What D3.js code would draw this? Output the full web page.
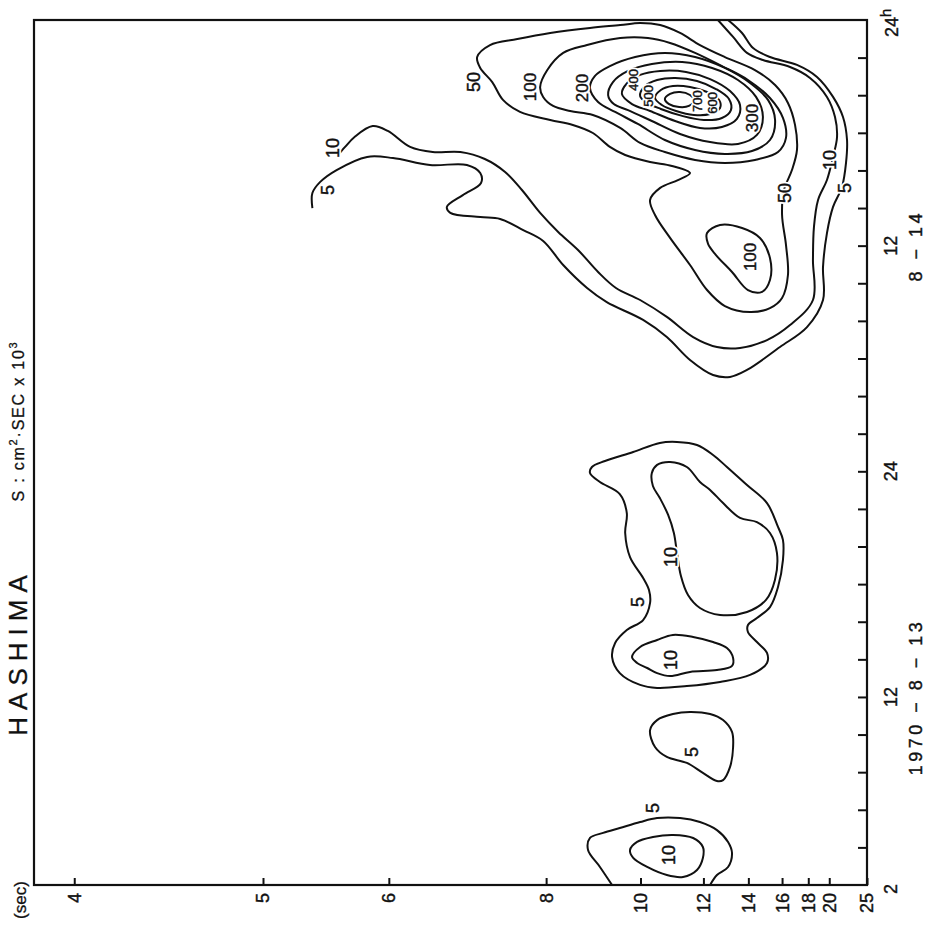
<!DOCTYPE html>
<html><head><meta charset="utf-8">
<script src="https://cdn.jsdelivr.net/npm/d3@7"></script>
<style>
body{margin:0;background:#fff}
svg{display:block}
text{font-family:"Liberation Sans",Arial,Helvetica,sans-serif;fill:#111}
</style>
</head><body>
<svg id="chart" width="925" height="934"></svg>
<script>
// ---------- DATA (period in seconds, time in hours from 1970-8-13 00h) ----------
const periodTicks = [4, 5, 6, 8, 10, 12, 14, 16, 18, 20, 25];
const hourTicks = [4, 6, 8, 10, 12, 14, 16, 18, 20, 22, 24, 26, 28, 30, 32, 34, 36, 38, 40, 42, 44, 46];
const hourLabelValues = [2, 12, 24, 36];
const hourLabelTexts = ["2", "12", "24", "12"];
const dateLabelHours = [12, 36];
const dateLabelTexts = ["1970 \u2212 8 \u2212 13", "8 \u2212 14"];

// contour lines: [period (s), hour]
const c5_A = [[9.30,2.00],[9.03,2.96],[8.78,3.86],[8.82,4.50],[9.10,4.77],[9.48,5.03],[9.99,5.35],[10.46,5.56],[11.17,5.56],[11.87,5.35],[12.54,4.92],[13.02,4.29],[13.20,3.70],[13.02,2.96],[12.54,2.53],[12.26,2.00]];
const c10_A = [[9.73,3.86],[9.91,4.29],[10.34,4.55],[10.94,4.66],[11.62,4.50],[11.98,4.02],[11.98,3.44],[11.76,2.80],[11.27,2.43],[10.75,2.53],[10.18,2.96],[9.81,3.44]];
const c5_B = [[10.26,10.24],[10.46,10.77],[10.94,11.09],[11.51,11.20],[12.26,11.09],[12.80,10.77],[13.20,10.14],[13.25,9.34],[13.11,8.28],[12.80,7.58],[12.54,7.53],[11.98,7.96],[11.40,8.49],[10.75,8.81],[10.40,9.34]];
const c5_C = [[9.30,14.12],[9.48,13.27],[9.99,12.64],[10.46,12.48],[11.40,12.58],[12.67,12.80],[14.09,13.17],[15.04,13.81],[15.04,14.34],[14.46,14.92],[13.98,15.45],[13.98,15.83],[14.46,16.20],[15.22,16.78],[15.73,17.85],[16.06,19.28],[16.06,20.35],[15.73,21.04],[15.04,22.31],[13.93,23.27],[12.97,24.23],[12.38,24.87],[11.76,25.40],[11.07,25.56],[10.54,25.51],[9.81,25.03],[9.14,24.55],[8.86,24.23],[8.82,23.91],[9.03,23.43],[9.48,22.79],[9.65,21.78],[9.61,20.72],[9.73,19.44],[10.07,18.33],[10.23,17.69],[10.26,17.00],[10.07,16.09],[9.65,15.56],[9.37,14.87]];
const c10_C1 = [[10.31,23.91],[10.46,24.34],[10.85,24.50],[11.40,24.23],[11.87,23.43],[12.26,23.01],[12.80,22.31],[13.58,21.52],[14.46,21.30],[15.22,20.72],[15.66,19.66],[15.53,18.22],[14.98,17.16],[13.93,16.52],[12.67,16.36],[11.87,16.73],[11.44,17.42],[11.20,18.43],[11.07,19.66],[10.97,20.72],[10.79,21.68],[10.54,22.58],[10.34,23.22]];
const c10_C2 = [[9.78,14.12],[9.99,14.66],[10.46,15.03],[10.94,15.30],[11.62,15.19],[12.38,14.92],[12.97,14.60],[13.25,14.07],[13.20,13.65],[12.54,13.43],[11.51,13.33],[10.85,13.11],[10.46,13.27],[10.18,13.54],[9.91,13.81]];
const c5_D = [[5.35,38.00],[5.35,38.80],[5.41,39.39],[5.54,40.02],[5.80,40.72],[6.04,40.66],[6.42,40.29],[6.85,40.29],[7.02,39.86],[7.03,39.33],[6.80,38.69],[6.61,38.06],[6.65,37.74],[7.02,37.52],[7.29,37.42],[7.63,36.83],[7.95,36.25],[8.30,34.97],[8.76,33.75],[9.18,33.00],[10.07,32.05],[10.75,31.14],[11.51,29.92],[12.38,29.12],[13.11,29.02],[13.93,29.39],[15.86,30.61],[17.89,31.67],[19.36,33.11],[19.36,34.87],[19.76,36.67],[20.41,38.06],[21.45,39.12],[21.95,40.40],[22.08,41.62],[21.57,42.84],[20.41,43.91],[18.78,44.97],[17.08,45.61],[15.22,46.03],[14.25,46.51],[13.68,47.31],[13.02,48.00]];
const c10_D = [[5.54,40.72],[5.61,41.25],[5.69,41.78],[5.85,42.36],[5.99,42.10],[6.21,41.25],[6.45,40.98],[6.77,40.98],[7.08,40.61],[7.36,39.92],[7.61,38.96],[7.90,37.74],[8.21,36.73],[8.58,35.77],[8.99,34.60],[9.39,33.75],[9.99,33.11],[10.75,32.21],[11.62,31.14],[12.54,30.61],[13.58,30.56],[15.04,30.98],[16.56,31.78],[18.41,33.11],[18.41,35.24],[18.50,36.99],[18.88,38.43],[19.76,39.49],[20.41,40.72],[20.86,41.78],[20.63,42.84],[19.76,43.91],[18.15,44.92],[16.56,45.50],[14.80,45.87],[13.93,46.25],[13.25,47.10],[12.58,48.00]];
const c50_D = [[9.49,47.73],[8.82,47.58],[8.07,47.31],[7.54,46.99],[7.15,46.67],[6.98,46.03],[7.02,45.45],[7.18,44.70],[7.33,43.75],[7.58,43.11],[8.07,42.68],[8.48,42.42],[8.88,41.99],[9.25,41.25],[9.61,40.82],[10.26,40.45],[10.91,40.24],[11.51,39.86],[11.10,39.49],[10.55,39.07],[10.26,38.43],[10.40,37.63],[10.85,36.41],[11.51,34.97],[12.14,33.64],[12.88,32.79],[14.09,32.47],[15.22,32.68],[16.00,33.22],[16.41,34.44],[16.27,36.04],[16.00,37.63],[16.13,38.96],[16.70,40.02],[17.08,41.09],[16.93,42.42],[16.41,43.59],[15.54,44.54],[14.35,45.34],[12.88,46.03],[11.87,46.67],[11.17,47.31],[10.55,47.73],[9.99,47.84]];
const c100_D1 = [[7.90,44.44],[8.02,45.34],[8.30,46.25],[8.76,46.67],[9.49,47.04],[10.20,47.04],[10.85,46.78],[11.69,46.25],[12.75,45.55],[13.98,44.81],[15.22,43.85],[16.06,42.79],[16.27,41.73],[15.73,40.98],[14.35,40.56],[12.88,40.40],[11.69,40.56],[10.69,40.98],[9.99,41.46],[9.49,42.26],[8.88,42.95],[8.43,43.16],[8.12,43.43],[7.95,43.91]];
const c100_D2 = [[12.14,36.67],[12.67,37.10],[13.68,36.94],[14.63,36.41],[15.22,35.34],[15.22,34.17],[14.75,33.54],[13.98,33.64],[13.20,34.60],[12.50,35.50],[12.18,36.09]];
const c200_D = [[8.82,44.38],[8.92,45.02],[9.25,45.55],[9.86,46.03],[10.69,46.25],[11.69,46.03],[12.88,45.45],[14.09,44.65],[15.10,43.75],[15.54,42.68],[15.22,41.62],[14.19,41.03],[12.88,40.88],[11.69,41.09],[10.69,41.62],[9.93,42.47],[9.37,43.11],[8.99,43.64]];
const c300_D = [[9.21,44.01],[9.32,44.70],[9.68,45.29],[10.31,45.66],[11.24,45.77],[12.34,45.45],[13.48,44.81],[14.41,43.91],[14.80,42.84],[14.46,41.89],[13.48,41.41],[12.26,41.51],[11.17,41.94],[10.31,42.63],[9.68,43.21],[9.34,43.53]];
const c400_D = [[9.53,44.07],[9.66,44.65],[9.99,45.08],[10.55,45.29],[11.37,45.24],[12.26,44.86],[13.11,44.22],[13.58,43.48],[13.43,42.74],[12.75,42.31],[11.87,42.26],[11.01,42.63],[10.26,43.16],[9.78,43.53]];
const c500_D = [[9.99,43.96],[10.12,44.49],[10.46,44.81],[11.01,44.92],[11.76,44.76],[12.50,44.33],[13.06,43.80],[13.15,43.21],[12.75,42.79],[12.02,42.68],[11.24,42.90],[10.57,43.27],[10.18,43.59]];
const c600_D = [[10.40,43.85],[10.57,44.28],[10.94,44.49],[11.51,44.44],[12.14,44.17],[12.63,43.75],[12.67,43.32],[12.26,43.00],[11.65,42.95],[11.04,43.16],[10.60,43.48]];
const c700_D = [[10.69,43.80],[10.85,44.07],[11.17,44.17],[11.51,44.01],[11.65,43.75],[11.47,43.43],[11.14,43.37],[10.82,43.53]];

const openContours = [c5_A, c5_D, c10_D];
const closedContours = [c10_A, c5_B, c5_C, c10_C1, c10_C2, c50_D, c100_D1, c100_D2, c200_D, c300_D, c400_D, c500_D, c600_D, c700_D];

// contour labels: [text, period, hour]
const contourLabels = [
  ["10",10.79,3.60],["5",10.34,6.09],["5",11.58,9.07],["10",10.85,13.97],["5",9.91,17.05],["10",10.85,19.44],
  ["5",5.47,38.96],["10",5.51,41.19],["50",6.93,44.70],["100",7.74,44.44],["200",8.66,44.38],
  ["400",9.81,44.81],["500",10.20,43.96],["700",11.76,43.69],["600",12.34,43.59],["300",14.19,42.79],
  ["100",14.09,35.40],["50",16.20,38.80],["10",20.08,40.55],["5",21.82,39.07]
];
const smallLabels = ["400","500","600","700"];

// ---------- LAYOUT ----------
const W = 925, H = 934;
const L = 34, R = 867, T = 20, B = 885;
const x = d3.scaleLinear().domain([1/3.8364, 1/25]).range([L, R]); // frequency scale
const px = p => x(1/p);
const y = d3.scaleLinear().domain([2, 48]).range([B, T]);
const ink = "#111";

const svg = d3.select("#chart");
svg.append("rect").attr("width", W).attr("height", H).attr("fill", "#fff");

svg.append("clipPath").attr("id","clip").append("rect")
  .attr("x", L).attr("y", T).attr("width", R-L).attr("height", B-T);

const g = svg.append("g").attr("clip-path","url(#clip)");
const lineOpen = d3.line().x(d => px(d[0])).y(d => y(d[1])).curve(d3.curveCatmullRom.alpha(0.5));
const lineClosed = d3.line().x(d => px(d[0])).y(d => y(d[1])).curve(d3.curveCatmullRomClosed.alpha(0.5));

g.selectAll("path.open").data(openContours).join("path")
  .attr("class","open").attr("d", lineOpen)
  .attr("fill","none").attr("stroke",ink).attr("stroke-width",2);
g.selectAll("path.closed").data(closedContours).join("path")
  .attr("class","closed").attr("d", lineClosed)
  .attr("fill","none").attr("stroke",ink).attr("stroke-width",2);

// contour labels (white halo breaks the line as in the original)
const clab = svg.selectAll("g.clab").data(contourLabels).join("g")
  .attr("class","clab")
  .attr("transform", d => `translate(${px(d[1])},${y(d[2])}) rotate(-90)`);
clab.append("text")
  .attr("text-anchor","middle").attr("dy","0.36em")
  .attr("font-size", d => smallLabels.includes(d[0]) ? 13 : (d[0].length > 2 ? 17 : 18))
  .attr("stroke","#fff").attr("stroke-width",4).attr("stroke-linejoin","round")
  .text(d => d[0]);
clab.append("text")
  .attr("text-anchor","middle").attr("dy","0.36em")
  .attr("font-size", d => smallLabels.includes(d[0]) ? 13 : (d[0].length > 2 ? 17 : 18))
  .attr("stroke",ink).attr("stroke-width",0.4)
  .text(d => d[0]);

// frame
svg.append("rect").attr("x", L).attr("y", T).attr("width", R-L).attr("height", B-T)
  .attr("fill","none").attr("stroke",ink).attr("stroke-width",2.2);

// period axis ticks (inward, bottom)
const xAxis = d3.axisTop(x).tickValues(periodTicks.map(p => 1/p)).tickSize(7).tickFormat("");
const xa = svg.append("g").attr("transform", `translate(0,${B})`).call(xAxis);
xa.select(".domain").remove();
xa.selectAll("line").attr("stroke",ink).attr("stroke-width",2);

svg.selectAll("text.plab").data(periodTicks).join("text")
  .attr("class","plab")
  .attr("transform", d => `translate(${px(d)},${B+8}) rotate(-90)`)
  .attr("text-anchor","end").attr("dy","0.36em")
  .attr("font-size",18).attr("stroke",ink).attr("stroke-width",0.4)
  .text(d => d);

// time axis ticks (inward, right)
const yAxis = d3.axisLeft(y).tickValues(hourTicks).tickSize(9).tickFormat("");
const ya = svg.append("g").attr("transform", `translate(${R},0)`).call(yAxis);
ya.select(".domain").remove();
ya.selectAll("line").attr("stroke",ink).attr("stroke-width",2);

svg.selectAll("text.hlab").data(hourLabelValues).join("text")
  .attr("class","hlab")
  .attr("transform", (d,i) => `translate(897,${y(d) + (d === 2 ? 4 : 0)}) rotate(-90)`)
  .attr("text-anchor","middle")
  .attr("font-size",18).attr("stroke",ink).attr("stroke-width",0.4)
  .text((d,i) => hourLabelTexts[i]);

// 24h at end of axis
const t24 = svg.append("text")
  .attr("transform", `translate(898,${y(48)+17}) rotate(-90)`)
  .attr("text-anchor","start").attr("font-size",18).attr("stroke",ink).attr("stroke-width",0.4);
t24.append("tspan").text("24");
t24.append("tspan").attr("dy",-7).attr("font-size",15).text("h");

svg.selectAll("text.dlab").data(dateLabelHours).join("text")
  .attr("class","dlab")
  .attr("transform", d => `translate(922,${y(d)}) rotate(-90)`)
  .attr("text-anchor","middle").attr("font-size",18).attr("letter-spacing",3.5)
  .attr("stroke",ink).attr("stroke-width",0.4)
  .text((d,i) => dateLabelTexts[i]);

// title and unit
svg.append("text")
  .attr("transform", "translate(27,652) rotate(-90)")
  .attr("text-anchor","middle").attr("font-size",26).attr("letter-spacing",7)
  .attr("stroke",ink).attr("stroke-width",0.3)
  .text("HASHIMA");

const unit = svg.append("text")
  .attr("transform", "translate(24,421) rotate(-90)")
  .attr("text-anchor","middle").attr("font-size",16).attr("letter-spacing",1.8)
  .attr("stroke",ink).attr("stroke-width",0.3);
unit.append("tspan").text("S : cm");
unit.append("tspan").attr("dy",-7).attr("font-size",11).text("2");
unit.append("tspan").attr("dy",7).text("\u00B7SEC x 10");
unit.append("tspan").attr("dy",-7).attr("font-size",11).text("3");

svg.append("text")
  .attr("transform", "translate(26,900) rotate(-90)")
  .attr("text-anchor","middle").attr("font-size",17)
  .attr("stroke",ink).attr("stroke-width",0.3)
  .text("(sec)");
</script>
</body></html>
